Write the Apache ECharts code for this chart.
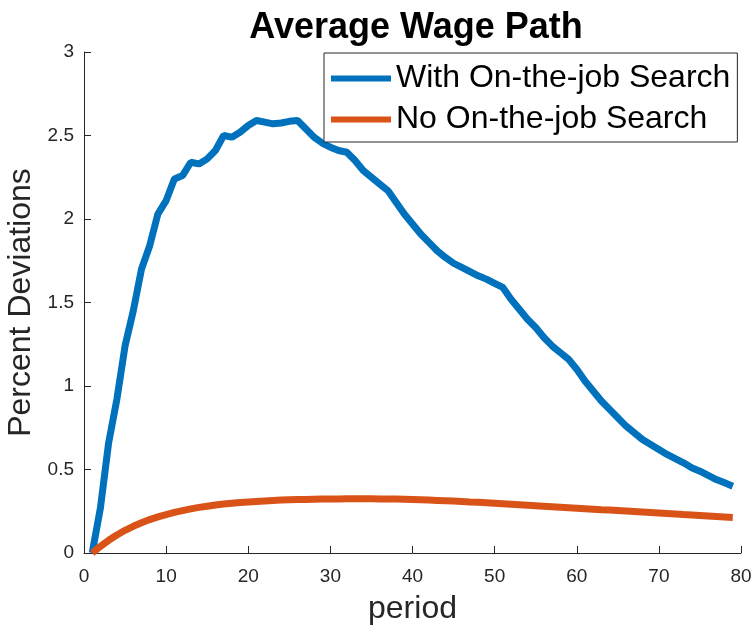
<!DOCTYPE html>
<html>
<head>
<meta charset="utf-8">
<script src="https://cdn.jsdelivr.net/npm/echarts@6/dist/echarts.min.js"></script>
<style>html,body{margin:0;padding:0;background:#fff}#c{width:751px;height:627px}</style>
</head>
<body>
<div id="c"></div>
<script>
const periods = [];
for (let p = 1; p <= 79; p++) periods.push(p);

const withOJS = [
  0, 0.27, 0.66, 0.92, 1.24, 1.45, 1.70, 1.84, 2.03, 2.11,
  2.24, 2.26, 2.34, 2.33, 2.36, 2.41, 2.50, 2.49, 2.52, 2.56,
  2.59, 2.58, 2.57, 2.575, 2.585, 2.59, 2.54, 2.49, 2.455, 2.43,
  2.41, 2.40, 2.35, 2.29, 2.25, 2.21, 2.17, 2.10, 2.03, 1.97,
  1.91, 1.86, 1.81, 1.77, 1.735, 1.71, 1.685, 1.66, 1.64, 1.615,
  1.59, 1.52, 1.46, 1.40, 1.35, 1.29, 1.24, 1.20, 1.16, 1.10,
  1.03, 0.97, 0.91, 0.86, 0.81, 0.76, 0.72, 0.68, 0.65, 0.62,
  0.59, 0.565, 0.54, 0.51, 0.49, 0.465, 0.44, 0.42, 0.40
];

const noOJS = [
  0, 0.04, 0.076, 0.108, 0.136, 0.16, 0.181, 0.2, 0.216, 0.23,
  0.243, 0.254, 0.264, 0.273, 0.28, 0.287, 0.293, 0.298, 0.302, 0.306,
  0.309, 0.312, 0.315, 0.317, 0.319, 0.32, 0.321, 0.322, 0.323, 0.324,
  0.324, 0.325, 0.325, 0.325, 0.325, 0.324, 0.324, 0.323, 0.322, 0.321,
  0.319, 0.317, 0.315, 0.313, 0.311, 0.309, 0.306, 0.304, 0.301, 0.298,
  0.295, 0.292, 0.289, 0.286, 0.283, 0.280, 0.277, 0.274, 0.271, 0.268,
  0.265, 0.262, 0.259, 0.257, 0.254, 0.251, 0.248, 0.245, 0.242, 0.239,
  0.236, 0.233, 0.230, 0.228, 0.225, 0.222, 0.219, 0.216, 0.213
];

const seriesNames = ['With On-the-job Search', 'No On-the-job Search'];
const xTicks = [0, 10, 20, 30, 40, 50, 60, 70, 80];
const yTicks = [0, 0.5, 1, 1.5, 2, 2.5, 3];

const FONT = '"Liberation Sans", Arial, Helvetica, sans-serif';
const axisColor = '#262626';

const chart = echarts.init(document.getElementById('c'), null, {renderer: 'canvas'});
chart.setOption({
  animation: false,
  backgroundColor: '#fff',
  textStyle: {fontFamily: FONT},
  title: {
    text: 'Average Wage Path',
    left: 411,
    textAlign: 'center',
    top: 5,
    textStyle: {fontFamily: FONT, fontWeight: 'bold', fontSize: 36, color: '#000'}
  },
  legend: {
    orient: 'vertical',
    left: 324,
    top: 53,
    padding: [9, 7, 6, 7],
    itemGap: 8,
    itemWidth: 60,
    itemHeight: 6,
    icon: 'rect',
    borderColor: axisColor,
    borderWidth: 1,
    backgroundColor: '#fff',
    textStyle: {fontFamily: FONT, fontSize: 32, color: '#000', lineHeight: 33},
    data: seriesNames
  },
  grid: {left: 84, right: 10, top: 52, bottom: 74, containLabel: false, outerBoundsMode: 'none'},
  xAxis: {
    type: 'value',
    min: xTicks[0],
    max: xTicks[xTicks.length - 1],
    interval: 10,
    name: 'period',
    nameLocation: 'middle',
    nameGap: 40,
    nameTextStyle: {fontFamily: FONT, fontSize: 32, color: axisColor},
    axisLine: {show: true, onZero: false, lineStyle: {color: axisColor, width: 1}},
    axisTick: {show: true, inside: true, length: 7, lineStyle: {color: axisColor}},
    axisLabel: {fontFamily: FONT, fontSize: 19, color: axisColor, margin: 14},
    splitLine: {show: false}
  },
  yAxis: {
    type: 'value',
    min: yTicks[0],
    max: yTicks[yTicks.length - 1],
    interval: 0.5,
    name: 'Percent Deviations',
    nameLocation: 'middle',
    nameGap: 42,
    nameTextStyle: {fontFamily: FONT, fontSize: 32, color: axisColor},
    axisLine: {show: true, lineStyle: {color: axisColor, width: 1}},
    axisTick: {show: true, inside: true, length: 7, lineStyle: {color: axisColor}},
    axisLabel: {fontFamily: FONT, fontSize: 19, color: axisColor, margin: 10},
    splitLine: {show: false}
  },
  series: [
    {
      name: seriesNames[0],
      type: 'line',
      data: periods.map((p, i) => [p, withOJS[i]]),
      symbol: 'none',
      lineStyle: {color: '#0072BD', width: 7},
      itemStyle: {color: '#0072BD'},
      z: 2
    },
    {
      name: seriesNames[1],
      type: 'line',
      data: periods.map((p, i) => [p, noOJS[i]]),
      symbol: 'none',
      lineStyle: {color: '#D95319', width: 7},
      itemStyle: {color: '#D95319'},
      z: 3
    }
  ]
});
</script>
</body>
</html>
